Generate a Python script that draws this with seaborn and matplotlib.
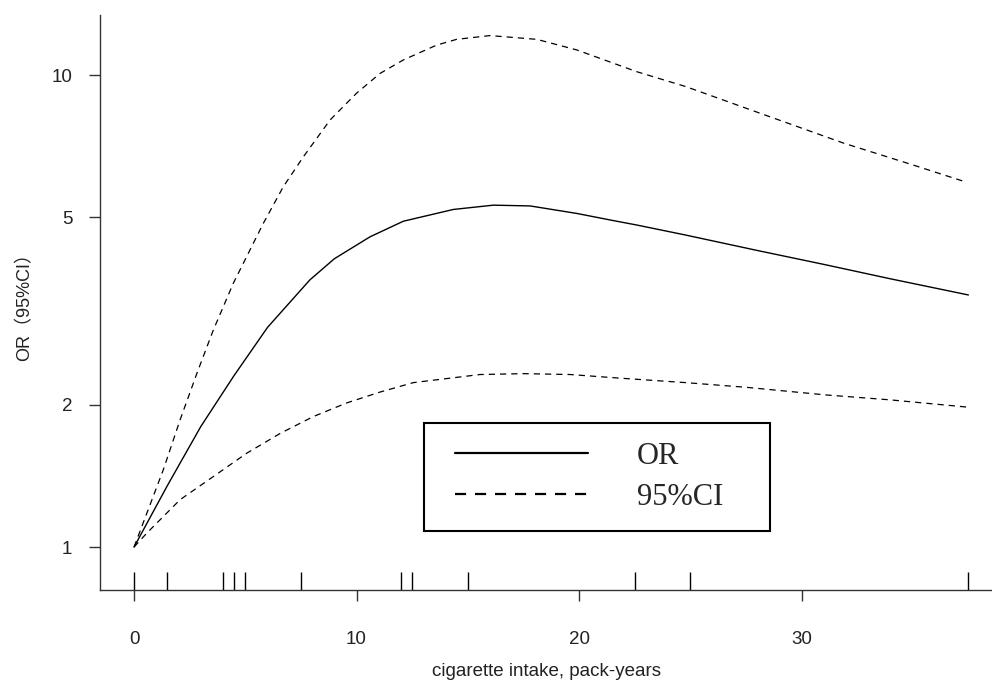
import numpy as np
import pandas as pd
import matplotlib
matplotlib.use("Agg")
import matplotlib.pyplot as plt
from matplotlib.patches import Rectangle
import seaborn as sns

# values (pack-years vs OR)
or_x = [0, 1.5, 3, 4.5, 6, 7.9, 9, 10.6, 12.1, 14.35, 16.15, 17.8, 19.9, 21.5,
        22.6, 24.8, 28, 31, 34, 37.5]
or_y = [1.0, 1.35, 1.80, 2.31, 2.92, 3.68, 4.08, 4.54, 4.90, 5.19, 5.30, 5.28, 5.09, 4.92,
        4.81, 4.58, 4.25, 3.97, 3.70, 3.42]

upper_x = [0, 1.32, 2.07, 2.82, 3.56, 4.46, 5.81, 6.71, 7.61, 8.81, 10.0, 11.06, 12.1,
           13.6, 14.5, 16.0, 18.1, 19.9, 22.6, 24.8, 28.1, 31.9, 35, 37.4]
upper_y = [1.0, 1.46, 1.86, 2.33, 2.88, 3.62, 4.85, 5.80, 6.71, 8.03, 9.15, 10.08, 10.76,
           11.57, 11.9, 12.12, 11.9, 11.3, 10.16, 9.45, 8.31, 7.17, 6.45, 5.93]

lower_x = [0, 0.57, 2.07, 3.56, 5.06, 6.56, 8.06, 9.56, 11.06, 12.55, 15.55, 17.5,
           19.6, 21.8, 24.8, 27.5, 31.1, 34, 37.4]
lower_y = [1.0, 1.07, 1.26, 1.41, 1.58, 1.74, 1.89, 2.02, 2.13, 2.23, 2.32, 2.33,
           2.32, 2.28, 2.23, 2.18, 2.10, 2.05, 1.98]

rug_x = [0, 1.5, 4, 4.5, 5, 7.5, 12, 12.5, 15, 22.5, 25, 37.5]

x_ticks = [0, 10, 20, 30]
y_ticks = [1, 2, 5, 10]

sns.set_style("ticks")
plt.rcParams["font.family"] = ["Liberation Sans", "Noto Sans CJK SC", "DejaVu Sans"]

fig = plt.figure(figsize=(9.92, 6.81), dpi=100)
ax = fig.add_axes([100 / 992, 91 / 681, 892 / 992, 575 / 681])

txt = "#222222"
dash = (0, (5, 4))
sns.lineplot(x=or_x, y=or_y, ax=ax, color="black", lw=1.0, label="OR")
sns.lineplot(x=upper_x, y=upper_y, ax=ax, color="black", lw=0.9,
             linestyle=dash, label="95%CI")
sns.lineplot(x=lower_x, y=lower_y, ax=ax, color="black", lw=0.9, linestyle=dash)
sns.rugplot(x=rug_x, ax=ax, height=0.031, color="black", lw=1.0)

ax.set_yscale("log")
ax.set_xlim(-1.53, 38.56)
ax.set_ylim(0.811, 13.4)
ax.set_xticks(x_ticks)
ax.set_xticklabels([str(t) for t in x_ticks])
ax.set_yticks(y_ticks)
ax.set_yticklabels([str(t) for t in y_ticks])
ax.minorticks_off()
ax.tick_params(axis="both", length=8, width=1, color="#333333",
               labelsize=13.5, labelcolor=txt)
ax.tick_params(axis="x", pad=21.5)
ax.tick_params(axis="y", pad=12)

for side in ["top", "right"]:
    ax.spines[side].set_visible(False)
for side in ["left", "bottom"]:
    ax.spines[side].set_color("#333333")
    ax.spines[side].set_linewidth(1)

ax.set_xlabel("cigarette intake, pack-years", fontsize=13.5, color=txt, labelpad=10.5)
ax.set_ylabel("OR（95%CI）", fontsize=13, color=txt, labelpad=13)

# legend box like R's legend()
ax.add_patch(Rectangle((0.363, 0.1026), 0.388, 0.1878, transform=ax.transAxes,
                       fill=False, edgecolor="black", lw=1.5, zorder=5))
leg = ax.legend(loc="center left", bbox_to_anchor=(0.398, 0.1965), frameon=False,
                prop={"family": "Liberation Serif", "size": 22},
                handlelength=4.35, handletextpad=1.6, labelspacing=0.4,
                borderpad=0, borderaxespad=0)
for line in leg.get_lines():
    line.set_linewidth(1.6)

fig.savefig("out.png", dpi=100)
